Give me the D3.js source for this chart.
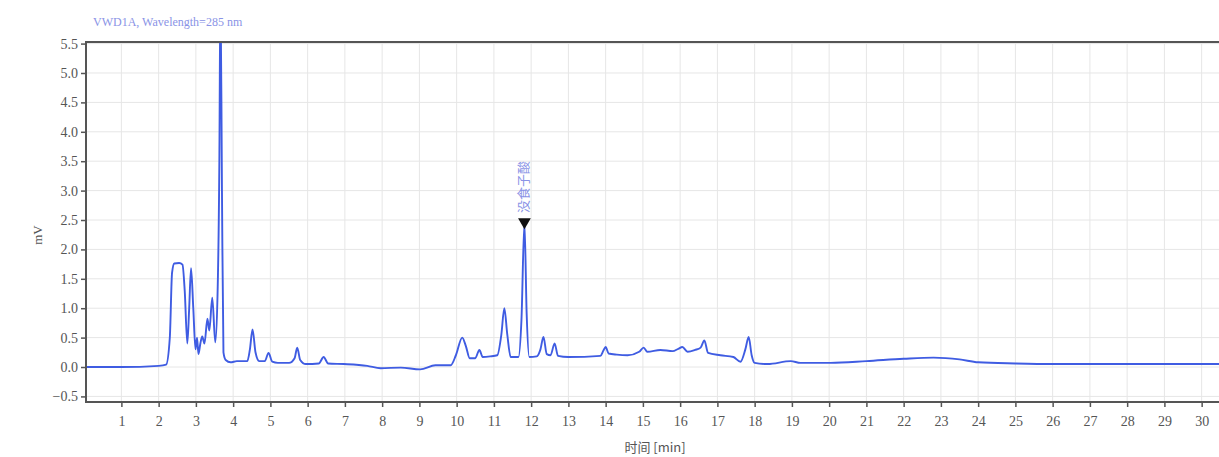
<!DOCTYPE html>
<html>
<head>
<meta charset="utf-8">
<script src="https://cdn.jsdelivr.net/npm/d3@7"></script>
<style>
  html, body { margin: 0; padding: 0; background: #fff; }
  svg { display: block; }
  text { font-family: "Liberation Serif", "Noto Sans CJK SC", serif; }
</style>
</head>
<body>
<svg id="chart" width="1219" height="457"></svg>
<script>
// ---- data ----
const timeMin = [0, 1.0, 2.0, 2.2, 2.3, 2.36, 2.42, 2.55, 2.64, 2.7, 2.77, 2.82, 2.87, 2.93, 2.99, 3.03, 3.07, 3.12, 3.17, 3.23, 3.31, 3.36, 3.44, 3.52, 3.58, 3.63, 3.66, 3.70, 3.74, 3.8, 3.93, 4.1, 4.38, 4.45, 4.52, 4.6, 4.7, 4.85, 4.95, 5.05, 5.2, 5.5, 5.65, 5.72, 5.8, 5.95, 6.3, 6.43, 6.55, 6.97, 7.6, 7.96, 8.5, 9.02, 9.43, 9.84, 9.98, 10.15, 10.25, 10.35, 10.5, 10.61, 10.7, 10.9, 11.09, 11.2, 11.28, 11.36, 11.45, 11.66, 11.74, 11.82, 11.88, 11.95, 12.15, 12.25, 12.33, 12.42, 12.52, 12.63, 12.72, 13.0, 13.86, 13.94, 14.0, 14.08, 14.3, 14.59, 14.9, 15.02, 15.12, 15.47, 15.8, 15.95, 16.06, 16.2, 16.4, 16.55, 16.65, 16.75, 17.08, 17.43, 17.62, 17.75, 17.84, 17.92, 18.0, 18.35, 18.97, 19.23, 20.04, 21.0, 22.0, 22.8, 23.5, 24.0, 25.0, 26.0, 27.0, 28.0, 29.0, 30.0, 30.6];
const signalMV = [0, 0.0, 0.02, 0.04, 0.5, 1.6, 1.76, 1.77, 1.74, 1.3, 0.4, 1.0, 1.68, 1.0, 0.3, 0.5, 0.22, 0.4, 0.52, 0.4, 0.82, 0.62, 1.18, 0.42, 1.2, 3.5, 6.5, 3.0, 0.25, 0.12, 0.08, 0.1, 0.1, 0.3, 0.64, 0.25, 0.1, 0.1, 0.24, 0.09, 0.07, 0.07, 0.15, 0.33, 0.12, 0.05, 0.06, 0.17, 0.06, 0.05, 0.02, -0.02, -0.01, -0.04, 0.03, 0.03, 0.2, 0.5, 0.35, 0.15, 0.15, 0.29, 0.17, 0.18, 0.2, 0.55, 1.0, 0.55, 0.17, 0.17, 0.8, 2.45, 0.9, 0.17, 0.18, 0.3, 0.51, 0.22, 0.2, 0.4, 0.19, 0.17, 0.19, 0.28, 0.34, 0.23, 0.21, 0.2, 0.26, 0.33, 0.26, 0.29, 0.27, 0.31, 0.34, 0.26, 0.29, 0.33, 0.45, 0.24, 0.2, 0.17, 0.09, 0.3, 0.51, 0.2, 0.07, 0.05, 0.1, 0.07, 0.07, 0.1, 0.14, 0.16, 0.13, 0.08, 0.06, 0.05, 0.05, 0.05, 0.05, 0.05, 0.05];
const xTicks = d3.range(1, 31);
const yTicks = [-0.5, 0, 0.5, 1, 1.5, 2, 2.5, 3, 3.5, 4, 4.5, 5, 5.5];
const peakLabel = { time: 11.82, value: 2.45, name: "没食子酸" };
const titleText = "VWD1A, Wavelength=285 nm";
const xLabel = "时间 [min]";
const yLabel = "mV";

// ---- layout ----
const svg = d3.select("#chart");
const mLeft = 86, mRight = 1224, mTop = 42, mBottom = 402;
const x = d3.scaleLinear().domain([0.05, 30.6]).range([mLeft, mRight]);
const y = d3.scaleLinear().domain([-0.595, 5.527]).range([mBottom, mTop]);

// grid
const grid = svg.append("g");
grid.selectAll("line.vg").data(xTicks).join("line")
  .attr("class", "vg")
  .attr("x1", d => x(d)).attr("x2", d => x(d))
  .attr("y1", mTop).attr("y2", mBottom)
  .attr("stroke", "#e6e6e6").attr("stroke-width", 1);
grid.selectAll("line.hg").data(yTicks).join("line")
  .attr("class", "hg")
  .attr("x1", mLeft).attr("x2", 1219)
  .attr("y1", d => y(d)).attr("y2", d => y(d))
  .attr("stroke", "#e6e6e6").attr("stroke-width", 1);

// clip
svg.append("clipPath").attr("id", "plotclip").append("rect")
  .attr("x", mLeft).attr("y", mTop).attr("width", 1219 - mLeft).attr("height", mBottom - mTop);

const pts = timeMin.map((t, i) => [t, signalMV[i]]);
const line = d3.line().x(d => x(d[0])).y(d => y(d[1])).curve(d3.curveMonotoneX);
svg.append("path").datum(pts)
  .attr("clip-path", "url(#plotclip)")
  .attr("d", line)
  .attr("fill", "none")
  .attr("stroke", "#3f5ce2")
  .attr("stroke-width", 1.9)
  .attr("stroke-linejoin", "round");

// axes
const xAxis = d3.axisBottom(x).tickValues(xTicks).tickSize(5).tickPadding(9).tickFormat(d3.format("d"));
const gx = svg.append("g").attr("transform", `translate(0,${mBottom})`).call(xAxis);
gx.select(".domain").remove();
gx.selectAll(".tick line").attr("stroke", "#555").attr("stroke-width", 1.5);
gx.selectAll(".tick text").attr("font-size", 14).attr("fill", "#555")
  .style("font-family", "'Liberation Serif', serif");

const yAxis = d3.axisLeft(y).tickValues(yTicks).tickSize(5).tickPadding(3).tickFormat(d3.format(".1f"));
const gy = svg.append("g").attr("transform", `translate(${mLeft},0)`).call(yAxis);
gy.select(".domain").remove();
gy.selectAll(".tick line").attr("stroke", "#555").attr("stroke-width", 1.5);
gy.selectAll(".tick text").attr("font-size", 14).attr("fill", "#555")
  .text(d => d3.format(".1f")(d).replace("-", "−"))
  .style("font-family", "'Liberation Serif', serif");

// frame
svg.append("line").attr("x1", mLeft).attr("x2", 1219).attr("y1", mTop).attr("y2", mTop)
  .attr("stroke", "#555").attr("stroke-width", 2);
svg.append("line").attr("x1", mLeft).attr("x2", 1219).attr("y1", mBottom).attr("y2", mBottom)
  .attr("stroke", "#555").attr("stroke-width", 2);
svg.append("line").attr("x1", mLeft).attr("x2", mLeft).attr("y1", mTop - 1).attr("y2", mBottom + 1)
  .attr("stroke", "#555").attr("stroke-width", 2);

// peak marker
const px = x(peakLabel.time), py = y(peakLabel.value);
svg.append("path")
  .attr("d", d3.symbol().type(d3.symbolTriangle).size(70)())
  .attr("transform", `translate(${px},${py - 1}) rotate(180)`)
  .attr("fill", "#111");
svg.append("text")
  .attr("transform", `translate(${px + 4},${py - 10}) rotate(-90)`)
  .attr("text-anchor", "start")
  .attr("font-size", 13)
  .attr("fill", "#8a93e6")
  .style("font-family", "'Noto Sans CJK SC', sans-serif")
  .text(peakLabel.name);

// titles
svg.append("text").attr("x", 93).attr("y", 26)
  .attr("font-size", 12).attr("fill", "#8a93e6")
  .text(titleText);
svg.append("text")
  .attr("transform", "translate(42,235) rotate(-90)")
  .attr("text-anchor", "middle").attr("font-size", 13).attr("fill", "#555")
  .text(yLabel);
svg.append("text").attr("x", 655).attr("y", 452)
  .attr("text-anchor", "middle").attr("font-size", 13).attr("fill", "#555")
  .style("font-family", "'Noto Sans CJK SC', 'Liberation Serif', serif")
  .text(xLabel);
</script>
</body>
</html>
